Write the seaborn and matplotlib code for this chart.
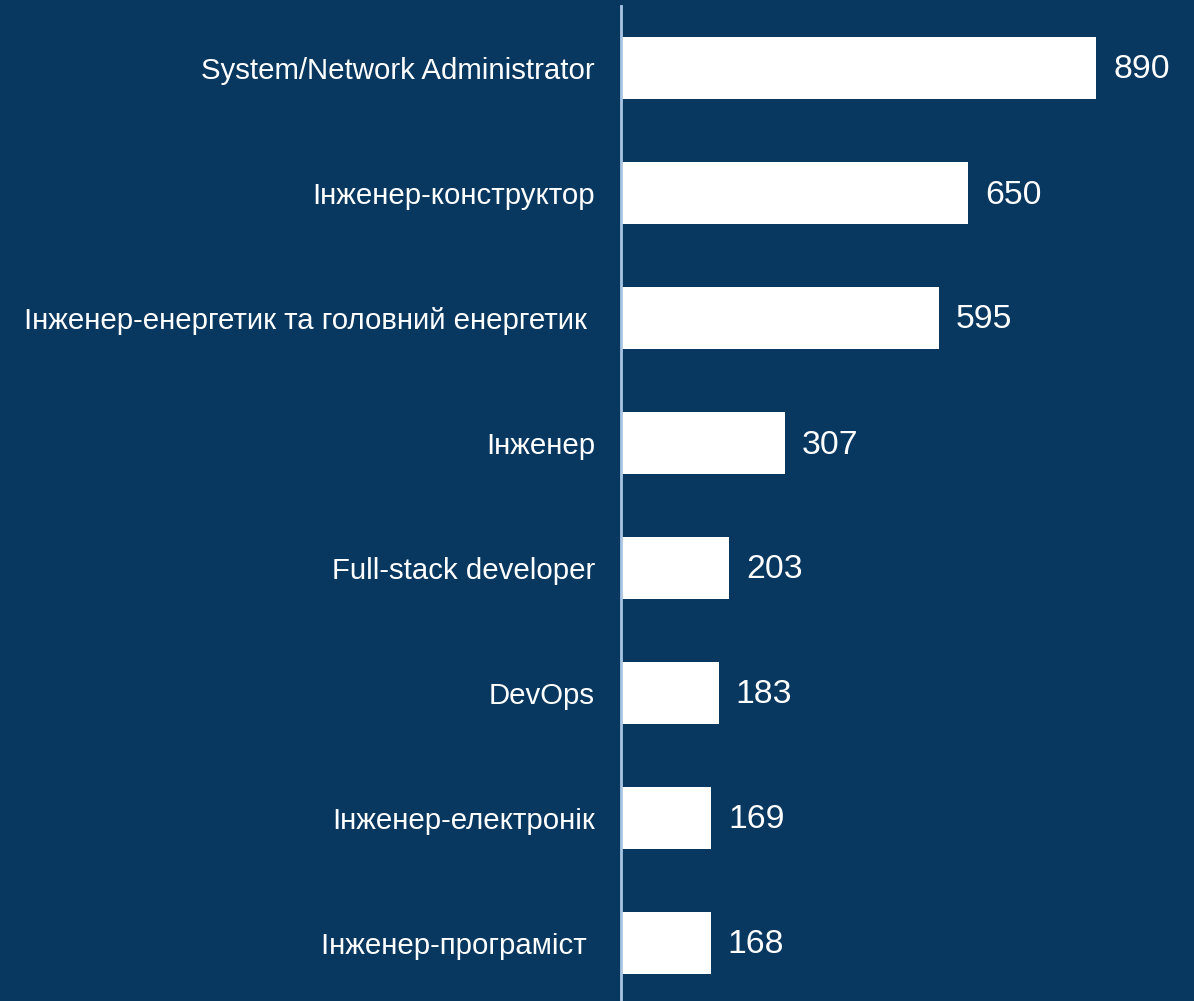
import matplotlib
matplotlib.use("Agg")
import matplotlib.pyplot as plt
import seaborn as sns
import pandas as pd

roles = [
    "System/Network Administrator",
    "Інженер-конструктор",
    "Інженер-енергетик та головний енергетик ",
    "Інженер",
    "Full-stack developer",
    "DevOps",
    "Інженер-електронік",
    "Інженер-програміст ",
]
counts = [890, 650, 595, 307, 203, 183, 169, 168]

BG = "#08375f"
AXIS = "#a9c6e4"

sns.set_theme(style="white")
plt.rcParams["font.family"] = ["Liberation Sans", "DejaVu Sans"]

df = pd.DataFrame({"role": roles, "count": counts})

fig = plt.figure(figsize=(11.94, 10.01), dpi=100, facecolor=BG)
W, H = 1194, 1001
ax = fig.add_axes([621 / W, 0, (W - 621) / W, 1 - 6 / H])
ax.set_facecolor(BG)

sns.barplot(data=df, x="count", y="role", orient="h", color="white",
            saturation=1, width=0.5, ax=ax, edgecolor="none")

ax.set_xlim(0, 1073.6)
ax.set_ylim(7.464, -0.496)

for i, v in enumerate(counts):
    ax.annotate(str(v), xy=(v, i), xytext=(17, -2), textcoords="offset pixels",
                ha="left", va="center", color="white", fontsize=24.3)

ax.set_xlabel("")
ax.set_ylabel("")
ax.set_xticks([])
ax.tick_params(axis="y", length=0, pad=18.7, labelsize=21.2, labelcolor="white")

for side in ["top", "right", "bottom"]:
    ax.spines[side].set_visible(False)
ax.spines["left"].set_color(AXIS)
ax.spines["left"].set_linewidth(2)

fig.savefig("out.png", dpi=100, facecolor=BG)
